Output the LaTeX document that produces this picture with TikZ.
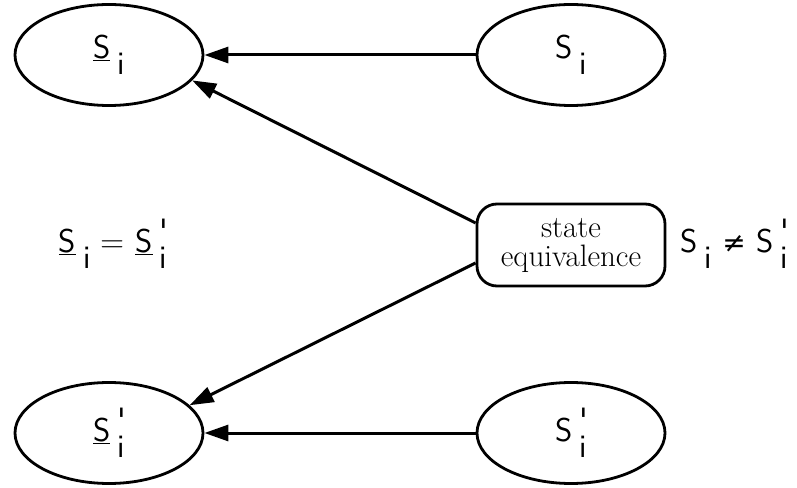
\documentclass[tikz,border=0pt]{standalone}
\usepackage{fontspec}
\usepackage{tikz}
\usetikzlibrary{positioning, shapes.geometric, arrows.meta}
\newfontfamily\symfont{DejaVu Sans}
\newcommand{\stname}[2]{#1\hspace{0.22em}\rlap{\raisebox{0.3em}{#2}}\raisebox{-0.5em}{i}}

\begin{document}
\begin{tikzpicture}
    [x=1pt, y=1pt, node distance=462pt,
    state/.style={ellipse, draw, line width=2.8pt, minimum width=188pt, minimum height=101pt,
    font=\fontsize{33}{36}\selectfont\sffamily},
    equiv/.style={rectangle, draw, rounded corners=20pt, line width=2.8pt, minimum width=188pt,
    minimum height=82pt, align=center, font=\fontsize{31}{29}\selectfont},
    relation/.style={font=\fontsize{33}{36}\selectfont\sffamily},
    arrow/.style={line width=3pt, -{Triangle[length=24pt, width=16pt]}}]
    \useasboundingbox (0,0) rectangle (797,487);
    \node [state] (sbar) at (109,432) {\stname{\underline{S}}{}};
    \node [state, right of=sbar] (s) {\stname{S}{}};
    \node [state, below of=sbar, node distance=378pt] (sbarp) {\stname{\underline{S}}{\textquotesingle}};
    \node [state, right of=sbarp] (sp) {\stname{S}{\textquotesingle}};
    \node [equiv, below of=s, node distance=190pt] (equiv) {state\\equivalence};
    \node [relation] (same) at (113,243)
    {\stname{\underline{S}}{} = \stname{\underline{S}}{\textquotesingle}};
    \node [relation] (differ) at (734,243)
    {\stname{S}{} {\symfont\fontsize{28}{30}\selectfont ≠} \stname{S}{\textquotesingle}};

    \draw [arrow] (s) -- (sbar);
    \draw [arrow] ([yshift=22pt]equiv.west) -- (sbar.343);
    \draw [arrow] ([yshift=-18pt]equiv.west) -- (sbarp.19);
    \draw [arrow] (sp) -- (sbarp);
  \end{tikzpicture}
\end{document}
